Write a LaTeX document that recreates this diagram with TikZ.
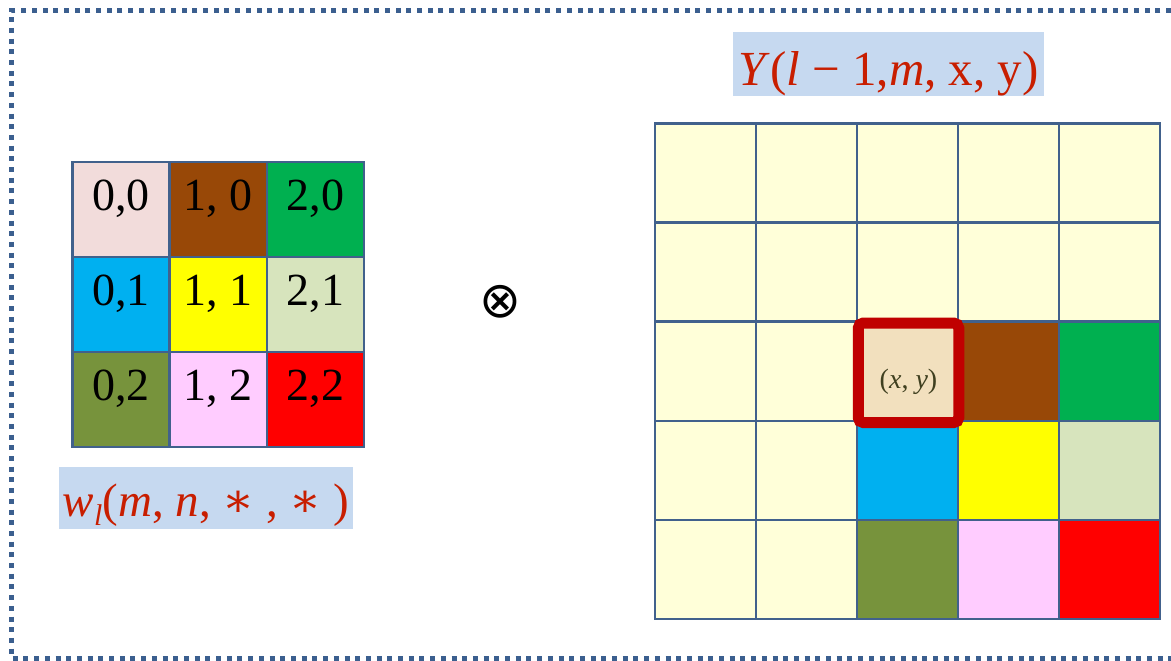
\documentclass[tikz,border=0pt]{standalone}
\usepackage{fontspec}
\setmainfont{Liberation Serif}
\newfontfamily\dejavu{DejaVu Sans}
\newfontfamily\dvserif{DejaVu Serif}
\definecolor{gridc}{RGB}{65,97,140}
\definecolor{dotc}{RGB}{59,95,143}
\definecolor{cream}{RGB}{255,255,217}
\definecolor{c00}{RGB}{242,220,219}
\definecolor{c10}{RGB}{152,72,7}
\definecolor{c20}{RGB}{0,176,80}
\definecolor{c01}{RGB}{0,176,240}
\definecolor{c11}{RGB}{255,255,0}
\definecolor{c21}{RGB}{215,228,189}
\definecolor{c02}{RGB}{119,147,60}
\definecolor{c12}{RGB}{255,204,255}
\definecolor{c22}{RGB}{255,0,0}
\definecolor{beige}{RGB}{242,224,190}
\definecolor{hired}{RGB}{192,0,0}
\definecolor{labred}{RGB}{200,30,0}
\definecolor{labbg}{RGB}{198,217,240}
\definecolor{xytext}{RGB}{64,64,32}
\tikzset{
  lcell/.style={draw=gridc, line width=2.5pt, minimum width=97.2pt, minimum height=95.1pt,
    inner sep=0pt, text height=17pt, text depth=15pt, font=\fontsize{46}{52}\selectfont},
  rcell/.style={draw=gridc, line width=2.5pt, minimum width=101pt, minimum height=99.15pt,
    inner sep=0pt},
  labbox/.style={fill=labbg, inner sep=0pt, text=labred, text depth=0pt},
}
\begin{document}
\begin{tikzpicture}[x=1pt,y=-1pt]
\useasboundingbox (0,0) rectangle (1171,661);
% dotted frame
\draw[dotc, line width=5pt, dash pattern=on 5pt off 5.7pt]
  (1171,10.5) -- (11.5,10.5) -- (11.5,658) -- (1171,658);

% left 3x3 kernel
\node[lcell, fill=c00] (w00) at (121.1,209.3) {0,0};
\node[lcell, fill=c10] (w10) at (218.3,209.3) {1, 0};
\node[lcell, fill=c20] (w20) at (315.5,209.3) {2,0};
\node[lcell, fill=c01] (w01) at (121.1,304.4) {0,1};
\node[lcell, fill=c11] (w11) at (218.3,304.4) {1, 1};
\node[lcell, fill=c21] (w21) at (315.5,304.4) {2,1};
\node[lcell, fill=c02] (w02) at (121.1,399.5) {0,2};
\node[lcell, fill=c12] (w12) at (218.3,399.5) {1, 2};
\node[lcell, fill=c22] (w22) at (315.5,399.5) {2,2};

% kernel label
\node[labbox, minimum width=293.7pt, minimum height=61.7pt, text height=37pt,
  font=\fontsize{47}{52}\selectfont] (wlab) at (205.9,498.2)
  {\textit{w}\raisebox{-9pt}{\fontsize{30}{34}\selectfont\textit{l}}(\textit{m}, \textit{n}, {\dvserif ∗} , {\dvserif ∗} )};

% operator
\node[inner sep=0pt, font=\dejavu\fontsize{50}{54}\selectfont] (op) at (500.5,301.7) {⊗};

% right 5x5 grid
\foreach \i in {1,...,5}{
  \foreach \j in {1,2}{
    \node[rcell, fill=cream] (y\i\j) at ({655+101*(\i-0.5)},{123.3+99.15*(\j-0.5)}) {};
  }
}
\foreach \i in {1,2}{
  \foreach \j in {3,4,5}{
    \node[rcell, fill=cream] (y\i\j) at ({655+101*(\i-0.5)},{123.3+99.15*(\j-0.5)}) {};
  }
}
\node[rcell, fill=c10] (y43) at (1008.5,371.2) {};
\node[rcell, fill=c20] (y53) at (1109.5,371.2) {};
\node[rcell, fill=c01] (y34) at (907.5,470.4) {};
\node[rcell, fill=c11] (y44) at (1008.5,470.4) {};
\node[rcell, fill=c21] (y54) at (1109.5,470.4) {};
\node[rcell, fill=c02] (y35) at (907.5,569.5) {};
\node[rcell, fill=c12] (y45) at (1008.5,569.5) {};
\node[rcell, fill=c22] (y55) at (1109.5,569.5) {};
% highlighted (x,y) cell
\node[draw=hired, line width=11pt, rounded corners=5pt, fill=beige, inner sep=0pt,
  minimum width=100.5pt, minimum height=99.5pt, text=xytext, text height=31pt, text depth=0pt,
  font=\fontsize{28}{32}\selectfont] (y33) at (908.5,372.8) {(\textit{x}, \textit{y})};

% input label
\node[labbox, minimum width=310.7pt, minimum height=63.4pt, text height=42pt,
  font=\fontsize{49}{55}\selectfont] (ylab) at (888.7,64)
  {\textit{Y}(\textit{l} − 1,\textit{m}, x, y)};
\end{tikzpicture}
\end{document}
